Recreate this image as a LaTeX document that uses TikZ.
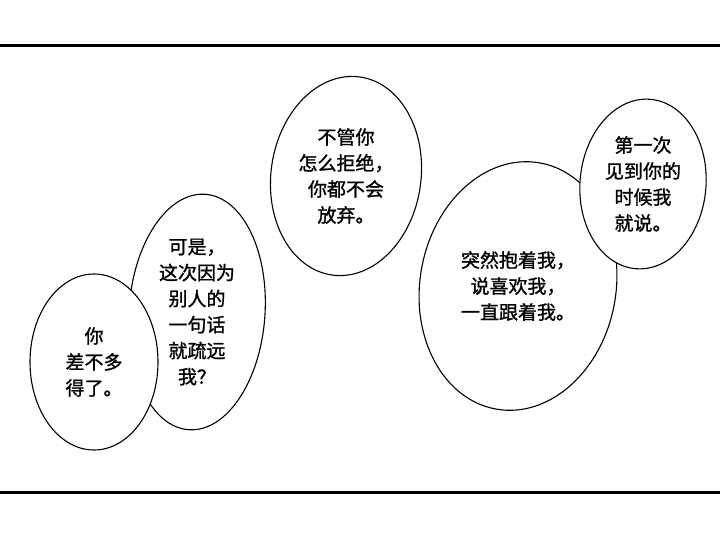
\documentclass[tikz,border=0pt]{standalone}
\usepackage{fontspec}
\newfontfamily\cjk[FakeBold=1.2]{Noto Sans CJK SC}
\usetikzlibrary{shapes.geometric}
\tikzset{
  bubble/.style={ellipse, draw, fill=white, line width=1.1pt, inner sep=0pt},
  words/.style={font=\cjk\fontsize{19}{26}\selectfont, align=center}
}
\begin{document}
\begin{tikzpicture}[x=1pt,y=-1pt]
\useasboundingbox (0,0) rectangle (720,538);
% panel frame
\draw[line width=3pt] (0,45) -- (720,45);
\draw[line width=3pt] (0,492) -- (720,492);

% bubbles, back to front
\node[bubble, minimum width=136pt, minimum height=236pt, rotate=-4] (b2) at (197,312) {};
\node[bubble, minimum width=128pt, minimum height=176pt] (b1) at (94,362) {};
\node[bubble, minimum width=150pt, minimum height=200pt, rotate=-8] (b3) at (346,176) {};
\node[bubble, minimum width=196pt, minimum height=250pt, rotate=-10] (b4) at (518,286) {};
\node[bubble, minimum width=126pt, minimum height=170pt, rotate=-5] (b5) at (643,184) {};

% texts
\node[words] (t1) at (b1) {你\\差不多\\得了。};
\node[words] (t2) at (b2) {可是，\\这次因为\\别人的\\一句话\\就疏远\\我？};
\node[words] (t3) at (b3) {不管你\\怎么拒绝，\\你都不会\\放弃。};
\node[words] (t4) at (b4) {突然抱着我，\\说喜欢我，\\一直跟着我。};
\node[words] (t5) at (b5) {第一次\\见到你的\\时候我\\就说。};
\end{tikzpicture}
\end{document}
